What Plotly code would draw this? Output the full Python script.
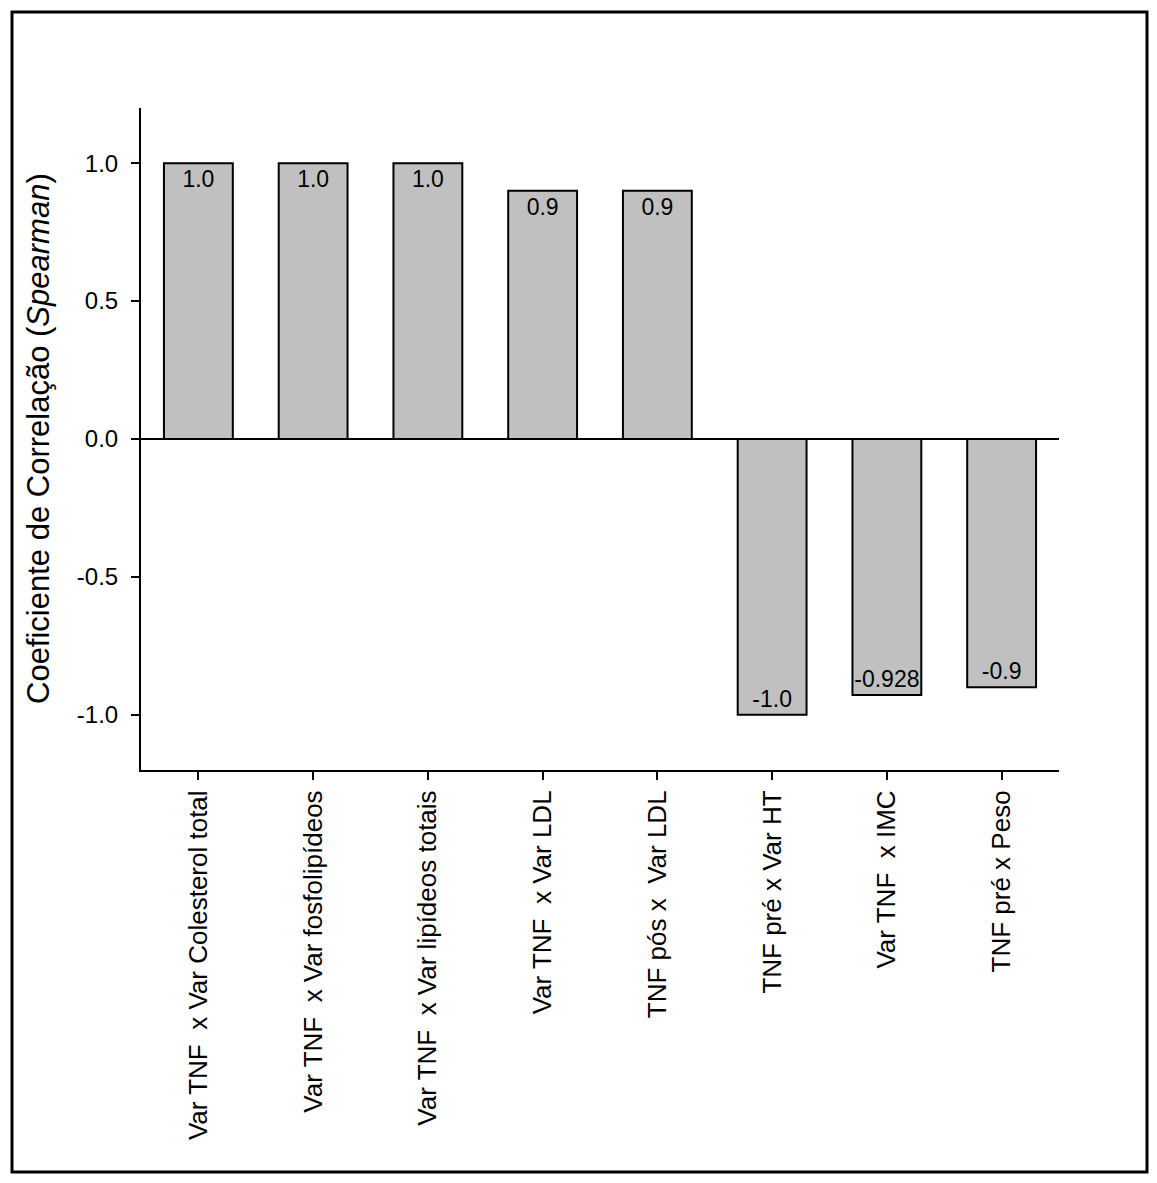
import plotly.graph_objects as go

categories = [
    "Var TNF\u00a0 x Var Colesterol total",
    "Var TNF\u00a0 x Var fosfolipídeos",
    "Var TNF\u00a0 x Var lipídeos totais",
    "Var TNF\u00a0 x Var LDL",
    "TNF pós x\u00a0 Var LDL",
    "TNF pré x Var HT",
    "Var TNF\u00a0 x IMC",
    "TNF pré x Peso",
]
values = [1.0, 1.0, 1.0, 0.9, 0.9, -1.0, -0.928, -0.9]
value_labels = ["1.0", "1.0", "1.0", "0.9", "0.9", "-1.0", "-0.928", "-0.9"]
y_ticks = [-1.0, -0.5, 0.0, 0.5, 1.0]
y_tick_labels = ["-1.0", "-0.5", "0.0", "0.5", "1.0"]

FONT = "Arial, 'Liberation Sans', sans-serif"
W, H = 1157, 1183
L, R, T, B = 141, 98, 108, 413
pw = W - L - R
ph = H - T - B

fig = go.Figure()
fig.add_trace(go.Bar(
    x=categories,
    y=values,
    width=0.6,
    marker=dict(color="#c0c0c0", line=dict(color="black", width=2)),
    text=value_labels,
    textposition="inside",
    insidetextanchor="end",
    constraintext="none",
    textangle=0,
    textfont=dict(family=FONT, size=23, color="black"),
    showlegend=False,
))

fig.update_layout(
    width=W, height=H,
    margin=dict(l=L, r=R, t=T, b=B, autoexpand=False),
    paper_bgcolor="white",
    plot_bgcolor="white",
    font=dict(family=FONT, color="black"),
    bargap=0.4,
)

fig.update_xaxes(
    type="category",
    showline=True, linecolor="black", linewidth=2,
    ticks="outside", ticklen=8, tickwidth=2, tickcolor="black",
    tickangle=-90,
    tickfont=dict(family=FONT, size=26, color="black"),
    showgrid=False, zeroline=False,
    automargin=False,
)
fig.update_yaxes(
    range=[-1.2, 1.2],
    tickvals=y_ticks, ticktext=y_tick_labels,
    showline=True, linecolor="black", linewidth=2,
    ticks="outside", ticklen=8, tickwidth=2, tickcolor="black",
    ticklabelstandoff=8,
    tickfont=dict(family=FONT, size=24, color="black"),
    showgrid=False,
    zeroline=True, zerolinecolor="black", zerolinewidth=2,
    automargin=False,
)

# axis title as annotation
fig.add_annotation(
    text="Coeficiente de Correlação (<i>Spearman</i>)",
    xref="paper", yref="paper",
    x=(38 - L) / pw, y=0.5,
    xanchor="center", yanchor="middle",
    textangle=-90, showarrow=False,
    font=dict(family=FONT, size=31, color="black"),
)

# outer frame
fig.add_shape(
    type="rect", xref="paper", yref="paper",
    x0=(12 - L) / pw, x1=(1147 - L) / pw,
    y0=(H - B - 1172) / ph, y1=(H - B - 12) / ph,
    line=dict(color="black", width=3),
    fillcolor="rgba(0,0,0,0)",
)

fig.write_html(
    "out.html",
    config={"displayModeBar": False},
    post_script="document.body.style.margin='0px';",
)
